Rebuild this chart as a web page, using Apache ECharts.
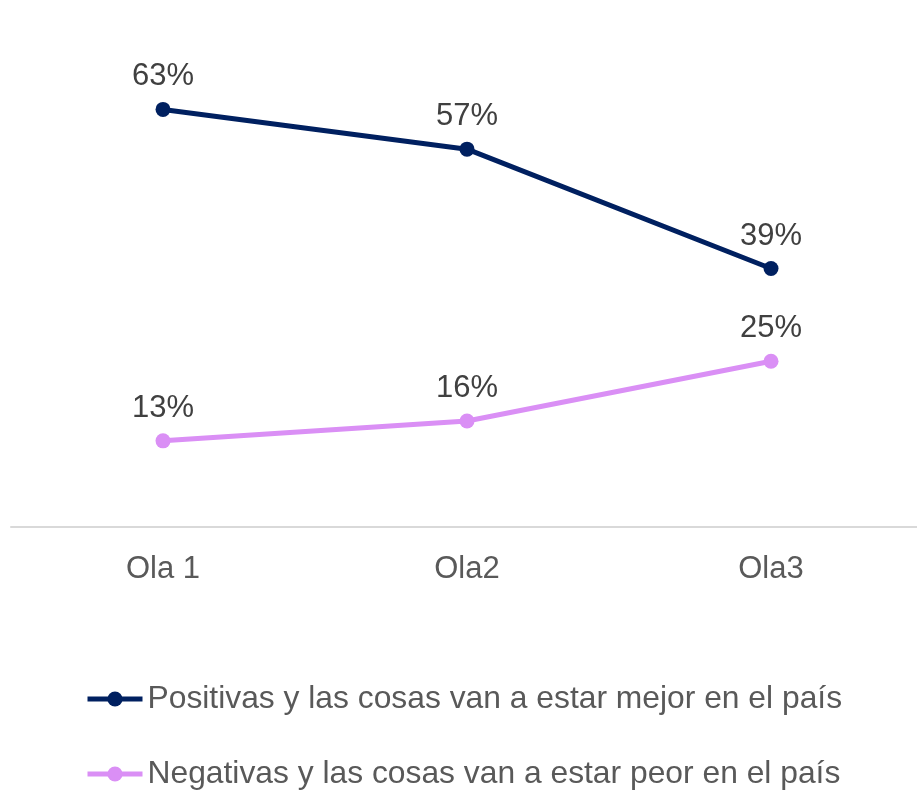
<!DOCTYPE html>
<html>
<head>
<meta charset="utf-8">
<script src="https://cdn.jsdelivr.net/npm/echarts@6/dist/echarts.min.js"></script>
<style>
  html, body { margin: 0; padding: 0; background: #fff; }
  #chart { width: 917px; height: 790px; }
</style>
</head>
<body>
<div id="chart"></div>
<script>
// categories and values
const olas = ['Ola 1', 'Ola2', 'Ola3'];
const positivas = [63, 57, 39];
const negativas = [13, 16, 25];
const nombres = [
  'Positivas y las cosas van a estar mejor en el país',
  'Negativas y las cosas van a estar peor en el país'
];

const font = '"Liberation Sans", Arial, sans-serif';
const myChart = echarts.init(document.getElementById('chart'));

function serie(name, data, color) {
  return {
    name: name,
    type: 'line',
    data: data,
    symbol: 'circle',
    symbolSize: 15,
    itemStyle: { color: color },
    lineStyle: { color: color, width: 5 },
    label: {
      show: true,
      position: 'top',
      distance: 9,
      formatter: '{c}%',
      color: '#404040',
      fontFamily: font,
      fontSize: 31,
      lineHeight: 32
    }
  };
}

// one legend per row so each row can be placed exactly
function leyenda(name, top) {
  return {
    orient: 'vertical',
    left: 85,
    top: top,
    padding: 0,
    itemWidth: 55,
    itemHeight: 19,
    lineStyle: { width: 5 },
    textStyle: {
      color: '#595959',
      fontFamily: font,
      fontSize: 31.8,
      lineHeight: 32
    },
    data: [name]
  };
}

const option = {
  animation: false,
  backgroundColor: '#fff',
  grid: { left: 11, width: 912, top: 63, bottom: 263, outerBoundsMode: 'none' },
  xAxis: {
    type: 'category',
    data: olas,
    axisLine: { lineStyle: { color: '#d9d9d9', width: 2 } },
    axisTick: { show: false },
    axisLabel: {
      margin: 26,
      color: '#595959',
      fontFamily: font,
      fontSize: 31,
      lineHeight: 32
    }
  },
  yAxis: {
    type: 'value',
    min: 0,
    max: 70,
    show: false,
    splitLine: { show: false }
  },
  legend: [
    leyenda(nombres[0], 683),
    leyenda(nombres[1], 758)
  ],
  series: [
    serie(nombres[0], positivas, '#002060'),
    serie(nombres[1], negativas, '#da8ff5')
  ]
};

myChart.setOption(option);
</script>
</body>
</html>
